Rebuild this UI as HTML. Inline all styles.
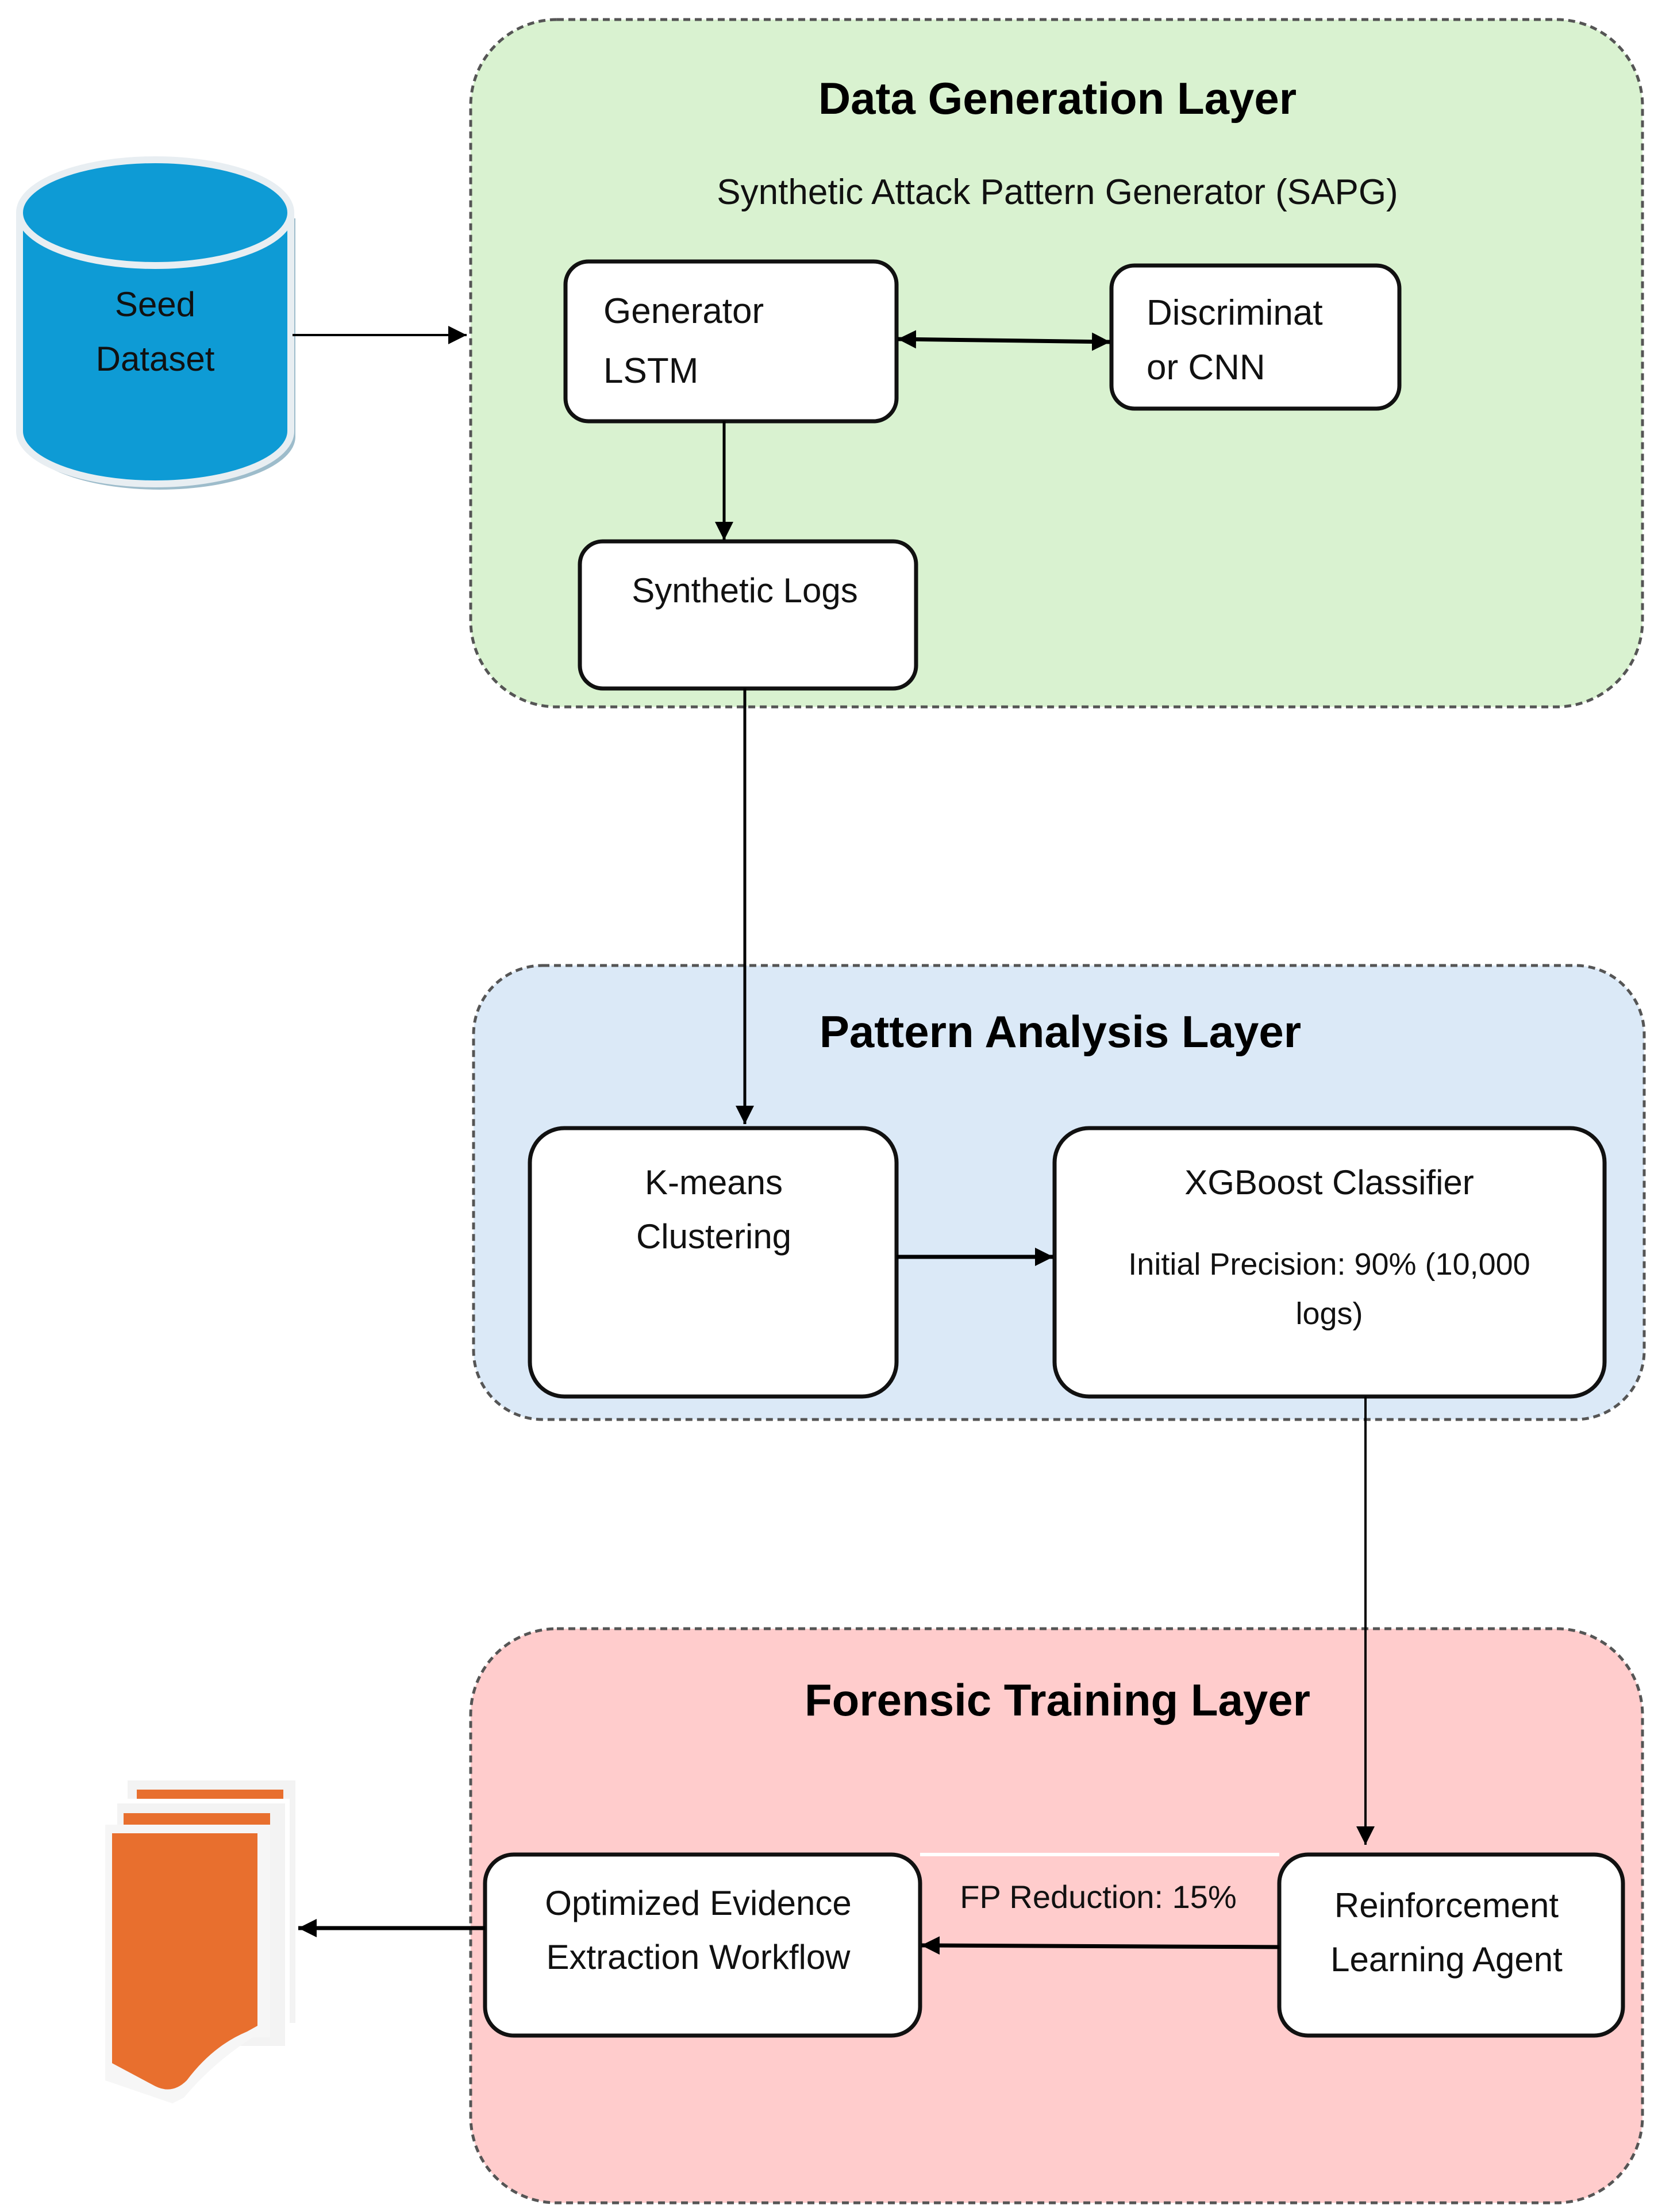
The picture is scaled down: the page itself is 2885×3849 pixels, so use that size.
<!DOCTYPE html>
<html><head><style>html,body{margin:0;padding:0;background:#fff}svg{display:block}</style></head>
<body>
<svg width="2885" height="3849" viewBox="0 0 2885 3849" xmlns="http://www.w3.org/2000/svg" font-family="Liberation Sans, sans-serif">
<defs>
<marker id="ah" markerWidth="10" markerHeight="10" refX="9" refY="5" orient="auto" markerUnits="userSpaceOnUse" viewBox="0 0 10 10">
<path d="M0,0 L10,5 L0,10 z" fill="#000"/></marker>
<marker id="a" viewBox="0 0 10 10" refX="10" refY="5" markerWidth="32" markerHeight="32" markerUnits="userSpaceOnUse" orient="auto-start-reverse"><path d="M0,0 L10,5 L0,10 z" fill="#000"/></marker>
</defs>
<!-- containers -->
<rect x="819" y="34" width="2039" height="1196" rx="150" fill="#d9f2d0" stroke="#555" stroke-width="5" stroke-dasharray="12,8"/>
<rect x="824" y="1680" width="2037" height="790" rx="120" fill="#dbe9f7" stroke="#555" stroke-width="5" stroke-dasharray="12,8"/>
<rect x="819" y="2834" width="2039" height="999" rx="150" fill="#ffcccc" stroke="#555" stroke-width="5" stroke-dasharray="12,8"/>

<g font-weight="bold" font-size="78" text-anchor="middle" fill="#000">
<text x="1840" y="198">Data Generation Layer</text>
<text x="1845" y="1822">Pattern Analysis Layer</text>
<text x="1840" y="2985">Forensic Training Layer</text>
</g>
<text x="1840" y="355" font-size="62" text-anchor="middle" fill="#111">Synthetic Attack Pattern Generator (SAPG)</text>

<!-- cylinder -->
<g>
<path d="M42,380 L42,760 A236,92 0 0 0 514,760 L514,380" fill="#9dbccb"/>
<path d="M34,370 L34,750 A236,92 0 0 0 506,750 L506,370" fill="#0e9bd5" stroke="#e8eef2" stroke-width="12"/>
<ellipse cx="270" cy="370" rx="236" ry="92" fill="#0e9bd5" stroke="#e8eef2" stroke-width="12"/>
<text x="270" y="550" font-size="60" text-anchor="middle" fill="#111">Seed</text>
<text x="270" y="645" font-size="60" text-anchor="middle" fill="#111">Dataset</text>
</g>

<!-- document icon -->
<g>
<rect x="218" y="3094" width="300" height="430" fill="#f3f3f3" stroke="#fff" stroke-width="8"/>
<rect x="238" y="3114" width="255" height="30" fill="#e86f2e"/>
<rect x="200" y="3134" width="300" height="430" fill="#f3f3f3" stroke="#fff" stroke-width="8"/>
<rect x="215" y="3155" width="255" height="30" fill="#e86f2e"/>
<path d="M183,3175 L470,3175 L470,3545 L440,3545 Q370,3590 320,3650 L300,3660 L183,3620 Z" fill="#f6f6f6"/>
<path d="M195,3190 L448,3190 L448,3525 L430,3535 Q370,3560 325,3620 Q300,3645 270,3630 L195,3590 Z" fill="#e86f2e"/>
</g>

<!-- boxes -->
<g fill="#fff" stroke="#111" stroke-width="7">
<rect x="984" y="455" width="576" height="278" rx="40"/>
<rect x="1934" y="462" width="501" height="249" rx="40"/>
<rect x="1009" y="942" width="585" height="256" rx="40"/>
<rect x="922" y="1963" width="638" height="467" rx="60"/>
<rect x="1835" y="1963" width="957" height="467" rx="60"/>
<rect x="844" y="3227" width="757" height="315" rx="50"/>
<rect x="2226" y="3227" width="598" height="315" rx="50"/>
</g>
<line x1="1601" y1="3227" x2="2226" y2="3227" stroke="#fff" stroke-width="6"/>

<g font-size="62" fill="#111">
<text x="1050" y="562">Generator</text>
<text x="1050" y="666">LSTM</text>
<text x="1995" y="565">Discriminat</text>
<text x="1995" y="660">or CNN</text>
</g>
<g font-size="60" fill="#111" text-anchor="middle">
<text x="1296" y="1048">Synthetic Logs</text>
<text x="1242" y="2078">K-means</text>
<text x="1242" y="2172">Clustering</text>
<text x="2313" y="2078">XGBoost Classifier</text>
<text x="2313" y="2218" font-size="54">Initial Precision: 90% (10,000</text>
<text x="2313" y="2304" font-size="54">logs)</text>
<text x="1215" y="3332">Optimized Evidence</text>
<text x="1215" y="3426">Extraction Workflow</text>
<text x="2517" y="3336">Reinforcement</text>
<text x="2517" y="3430">Learning Agent</text>
<text x="1911" y="3320" font-size="56">FP Reduction: 15%</text>
</g>

<!-- connectors -->
<g stroke="#000" fill="none">
<line x1="509" y1="583" x2="812" y2="583" stroke-width="4" marker-end="url(#a)"/>
<line x1="1562" y1="590" x2="1932" y2="595" stroke-width="7" marker-start="url(#a)" marker-end="url(#a)"/>
<line x1="1260" y1="733" x2="1260" y2="940" stroke-width="5" marker-end="url(#a)"/>
<line x1="1296" y1="1198" x2="1296" y2="1956" stroke-width="5" marker-end="url(#a)"/>
<line x1="1560" y1="2187" x2="1833" y2="2187" stroke-width="7" marker-end="url(#a)"/>
<line x1="2376" y1="2430" x2="2376" y2="3210" stroke-width="4" marker-end="url(#a)"/>
<line x1="2226" y1="3388" x2="1603" y2="3385" stroke-width="7" marker-end="url(#a)"/>
<line x1="844" y1="3355" x2="519" y2="3355" stroke-width="7" marker-end="url(#a)"/>
</g>
</svg>
</body></html>
